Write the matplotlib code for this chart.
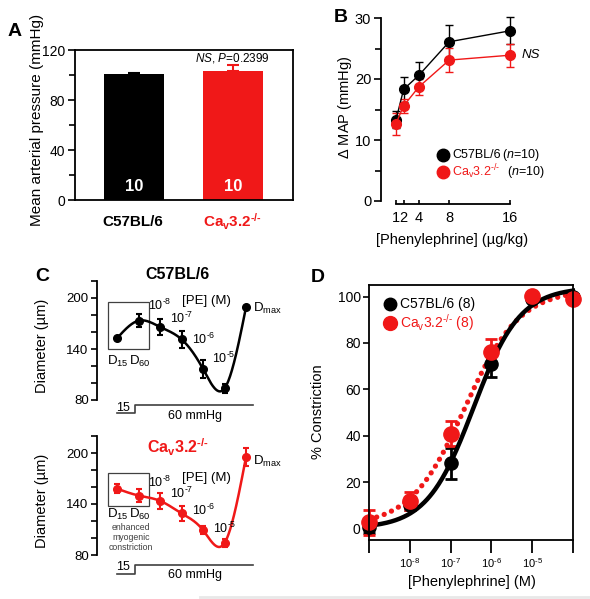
import numpy as np
import matplotlib
matplotlib.use("Agg")
import matplotlib.pyplot as plt
from matplotlib.patches import Rectangle
from matplotlib.lines import Line2D

plt.rcParams['font.family'] = ['Liberation Sans', 'DejaVu Sans']
plt.rcParams['mathtext.fontset'] = 'custom'
plt.rcParams['mathtext.rm'] = 'Liberation Sans'
plt.rcParams['mathtext.it'] = 'Liberation Sans:italic'
plt.rcParams['mathtext.bf'] = 'Liberation Sans:bold'
plt.rcParams['mathtext.default'] = 'regular'
plt.rcParams['axes.linewidth'] = 1.3

RED = '#f01818'
HY = '\u2010'
KO = 'Ca$_v$3.2$^{' + HY + '/' + HY + '}$'
KO_BOLD = r'$\mathbf{Ca_v3.2^{' + HY + '/' + HY + '}}$'

# --- A: mean arterial pressure
groups = ['C57BL/6', KO_BOLD]
map_mean = [100.6, 103.3]
map_sem = [0.8, 5.0]
map_n = ['10', '10']

# --- B: change in MAP vs phenylephrine dose
doses = [1, 2, 4, 8, 16]
wt_dmap = [13.3, 18.3, 20.6, 26.1, 27.9]
wt_dmap_err = [1.4, 2.0, 2.2, 2.7, 2.2]
ko_dmap = [12.7, 15.6, 18.7, 23.1, 23.9]
ko_dmap_err = [1.8, 1.2, 1.3, 2.0, 1.9]

# --- C: diameter trace
steps = ['D15', 'D60', '1e-8', '1e-7', '1e-6', '1e-5', 'Dmax']
pe_labels = ['10$^{' + HY + e + '}$' for e in ['8', '7', '6', '5']]
wt_diam = [152.6, 173.3, 166.0, 151.4, 116.5, 93.7, 189.5]
wt_diam_err = [1.5, 8.0, 9.0, 9.8, 10.2, 5.0, 1.5]
ko_diam = [158.0, 150.0, 143.7, 129.0, 109.2, 94.2, 195.6]
ko_diam_err = [5.5, 8.0, 9.0, 8.6, 5.0, 4.9, 10.5]

# --- D: % constriction
conc = [1e-9, 1e-8, 1e-7, 1e-6, 1e-5, 1e-4]
conc_labels = [''] + pe_labels + ['']
wt_con = [0.4, 10.0, 28.1, 71.1, 99.0, 100.0]
wt_con_err = [2.5, 2.0, 6.7, 6.0, 1.0, 1.0]
ko_con = [2.6, 11.9, 40.8, 76.2, 100.3, 98.8]
ko_con_err = [5.5, 4.0, 5.4, 5.6, 1.0, 1.0]
# fitted Hill curves: bottom, top, logEC50, slope
wt_fit = [0.0, 104.0, -6.44, 0.76]
ko_fit = [1.0, 103.0, -6.65, 0.65]

W, H = 590, 599
fig = plt.figure(figsize=(5.9, 5.99), dpi=100)


def box(x0, y0, x1, y1):
    return fig.add_axes([x0 / W, 1 - y1 / H, (x1 - x0) / W, (y1 - y0) / H])


def ftext(x, y, s, **kw):
    kw.setdefault('ha', 'center')
    kw.setdefault('va', 'center')
    fig.text(x / W, 1 - y / H, s, **kw)


def fmarker(x, y, color, ms):
    fig.add_artist(Line2D([x / W], [1 - y / H], marker='o', ms=ms, color=color,
                          transform=fig.transFigure))


def noclip(ax):
    for a in ax.lines + ax.collections:
        a.set_clip_on(False)


def spline(x, y, n=300):
    x = np.asarray(x, float)
    y = np.asarray(y, float)
    k = len(x)
    h = np.diff(x)
    A = np.zeros((k, k))
    b = np.zeros(k)
    A[0, 0] = A[-1, -1] = 1
    for i in range(1, k - 1):
        A[i, i - 1] = h[i - 1]
        A[i, i] = 2 * (h[i - 1] + h[i])
        A[i, i + 1] = h[i]
        b[i] = 3 * ((y[i + 1] - y[i]) / h[i] - (y[i] - y[i - 1]) / h[i - 1])
    c = np.linalg.solve(A, b)
    xs = np.linspace(x[0], x[-1], n)
    idx = np.clip(np.searchsorted(x, xs) - 1, 0, k - 2)
    dx = xs - x[idx]
    bb = (y[idx + 1] - y[idx]) / h[idx] - h[idx] * (2 * c[idx] + c[idx + 1]) / 3
    dd = (c[idx + 1] - c[idx]) / (3 * h[idx])
    return xs, y[idx] + bb * dx + c[idx] * dx ** 2 + dd * dx ** 3


def hill(x, p):
    return p[0] + (p[1] - p[0]) / (1 + 10 ** ((p[2] - np.log10(x)) * p[3]))


# ================= A
axA = box(75, 50, 293, 200)
xa = np.arange(len(groups))
cols = ['black', RED]
axA.bar(xa, map_mean, width=0.61, color=cols)
for i in range(len(xa)):
    axA.errorbar(xa[i], map_mean[i], yerr=[[0], [map_sem[i]]], fmt='none',
                 ecolor=cols[i], capsize=4, elinewidth=1.5, capthick=1.5)
    axA.text(xa[i], 11, map_n[i], color='white', fontsize=12, fontweight='bold',
             ha='center', va='center')
axA.set_xlim(-0.6, 1.61)
axA.set_ylim(0, 120)
axA.set_yticks([0, 40, 80, 120])
axA.set_yticks([20, 60, 100], minor=True)
axA.tick_params(axis='y', which='major', length=5, width=1.2, labelsize=10, pad=2)
axA.tick_params(axis='y', which='minor', length=4, width=1.2)
axA.tick_params(axis='x', length=0, labelbottom=False)
axA.text(1, 113.5, r'$\mathit{NS}$, $\mathit{P}$=0.2399', ha='center', va='center', fontsize=8.5)
ftext(37, 120, 'Mean arterial pressure (mmHg)', rotation=90, fontsize=11)
ftext(133, 222, groups[0], fontsize=11, fontweight='bold')
ftext(232, 222, groups[1], fontsize=11, fontweight='bold', color=RED)
ftext(15, 31, 'A', fontsize=14, fontweight='bold')

# ================= B
axB = box(396, 18, 510, 201)
axB.errorbar(doses, wt_dmap, yerr=wt_dmap_err, color='black', marker='o', ms=7,
             lw=1, elinewidth=1, capsize=3, capthick=1)
axB.errorbar(doses, ko_dmap, yerr=ko_dmap_err, color=RED, marker='o', ms=7,
             lw=1, elinewidth=1, capsize=3, capthick=1)
noclip(axB)
axB.set_xlim(1, 16)
axB.set_ylim(0, 30)
for s in ['top', 'right']:
    axB.spines[s].set_visible(False)
axB.spines['left'].set_position(('outward', 10.8))
axB.spines['bottom'].set_position(('outward', 2))
axB.spines['left'].set_bounds(0, 30)
axB.set_xticks(doses)
axB.set_xticklabels([str(d) for d in doses])
axB.set_yticks([0, 10, 20, 30])
axB.set_yticks([5, 15, 25], minor=True)
axB.tick_params(axis='x', direction='in', length=3, width=1.2, labelsize=10.5, pad=5)
axB.tick_params(axis='y', which='major', length=5, width=1.2, labelsize=10.5, pad=2)
axB.tick_params(axis='y', which='minor', length=4, width=1.2)
axB.text(18.8, 23.9, 'NS', style='italic', fontsize=9.5, ha='center', va='center')
ftext(345, 107, r'$\Delta$ MAP (mmHg)', rotation=90, fontsize=10.5)
ftext(452, 240, '[Phenylephrine] (µg/kg)', fontsize=10.5)
fmarker(443, 155, 'black', 9)
fmarker(443, 172, RED, 9)
ftext(452, 155, 'C57BL/6', ha='left', fontsize=9)
ftext(502, 155, '($\\mathit{n}$=10)', ha='left', fontsize=9)
ftext(452, 172, KO, ha='left', fontsize=9, color=RED)
ftext(507, 172, '($\\mathit{n}$=10)', ha='left', fontsize=9)
ftext(341, 18, 'B', fontsize=14, fontweight='bold')

# ================= C
xc = np.arange(len(steps))


def diam_panel(y0, y1, vals, errs, color, title, title_y, boxy, conc_pos, dmax_y, pres):
    ax = box(97, y0, 262, y1)
    xs, ys = spline(xc, vals)
    ax.plot(xs, ys, color=color, lw=1.8)
    ax.errorbar(xc, vals, yerr=errs, fmt='o', color=color, ms=5.5, elinewidth=1.5,
                capsize=2.5, capthick=1.5)
    ax.add_patch(Rectangle((-0.42, boxy[0]), 1.91, boxy[1] - boxy[0], fill=False,
                           lw=0.9, ec='0.25', clip_on=False))
    # pressure step
    ax.plot([0, 0.84, 0.84, 6.33], [pres[0], pres[0], pres[1], pres[1]],
            color='0.25', lw=1.2, clip_on=False)
    noclip(ax)
    ax.set_xlim(-0.93, 6.74)
    ax.set_ylim(80, 220)
    for s in ['top', 'right', 'bottom']:
        ax.spines[s].set_visible(False)
    ax.set_xticks([])
    ax.set_yticks(range(80, 221, 20))
    ax.set_yticklabels(['80', '', '', '140', '', '', '200', ''])
    ax.tick_params(axis='y', length=4, width=1.2, labelsize=9.5, pad=2)
    ftext(178, title_y, title, fontsize=11.5, fontweight='bold', color=color)
    ftext(42, (y0 + y1) / 2 + 5, 'Diameter (µm)', rotation=90, fontsize=10.5)
    for lab, (px, py) in zip(pe_labels, conc_pos):
        ftext(px, py, lab, fontsize=9)
    ftext(conc_pos[1][0] + 24, conc_pos[0][1] - 4, '[PE] (M)', fontsize=9.5)
    ftext(253, dmax_y, 'D$_{max}$', ha='left', fontsize=9.5)
    return ax


axC1 = diam_panel(281, 400, wt_diam, wt_diam_err, 'black', 'C57BL/6', 275,
                  (140, 195.3), [(160, 305), (182, 318), (204, 339), (224, 358)], 308, (64.7, 74.1))
ftext(118, 361, 'D$_{15}$', fontsize=9.5)
ftext(140, 361, 'D$_{60}$', fontsize=9.5)
ftext(123, 408, '15', fontsize=9)
ftext(195, 416, '60 mmHg', fontsize=9)

axC2 = diam_panel(436, 555, ko_diam, ko_diam_err, RED, KO_BOLD, 447,
                  (137.6, 176.8), [(160, 482), (182, 493), (204, 510), (225, 528)], 461, (57.6, 68.2))
ftext(118, 514, 'D$_{15}$', fontsize=9.5)
ftext(140, 514, 'D$_{60}$', fontsize=9.5)
ftext(131, 537.5, 'enhanced\nmyogenic\nconstriction', fontsize=6.3, color='0.25', linespacing=1.2)
ftext(123, 567, '15', fontsize=9)
ftext(195, 575, '60 mmHg', fontsize=9)
ftext(42, 277, 'C', fontsize=14, fontweight='bold')

# ================= D
axD = box(369, 285, 573, 540)
axD.set_xscale('log')
xs = np.logspace(-9, -4, 300)
axD.errorbar(conc, wt_con, yerr=wt_con_err, fmt='o', color='black', ms=9.5,
             elinewidth=2, capsize=4, capthick=2)
axD.errorbar(conc, ko_con, yerr=ko_con_err, fmt='o', color=RED, ms=11,
             elinewidth=2, capsize=4, capthick=2)
axD.plot(xs, hill(xs, ko_fit), color=RED, lw=3.8, ls=(0, (0.01, 1.5)), dash_capstyle='round')
axD.plot(xs, hill(xs, wt_fit), color='black', lw=3.2)
noclip(axD)
axD.set_xlim(1e-9, 1e-4)
axD.set_ylim(-5, 105)
axD.set_xticks(conc)
axD.set_xticklabels(conc_labels)
axD.minorticks_off()
axD.set_yticks(range(0, 101, 20))
axD.tick_params(axis='x', length=9, width=1.3, labelsize=8, pad=3)
axD.tick_params(axis='y', length=4, width=1.2, labelsize=10, pad=2)
ftext(318, 412, '% Constriction', rotation=90, fontsize=10.5)
ftext(472, 582, '[Phenylephrine] (M)', fontsize=10.5)
fmarker(390, 304, 'black', 9)
fmarker(390, 323, RED, 10)
ftext(400, 304, 'C57BL/6 (8)', ha='left', fontsize=10)
ftext(400, 323, KO + ' (8)', ha='left', fontsize=10, color=RED)
ftext(318, 278, 'D', fontsize=14, fontweight='bold')

fig.add_artist(Line2D([200 / W, 1], [1 - 597 / H] * 2, color='#e8e8e8', lw=2,
                      transform=fig.transFigure))

fig.savefig('out.png', dpi=100)
plt.close()
